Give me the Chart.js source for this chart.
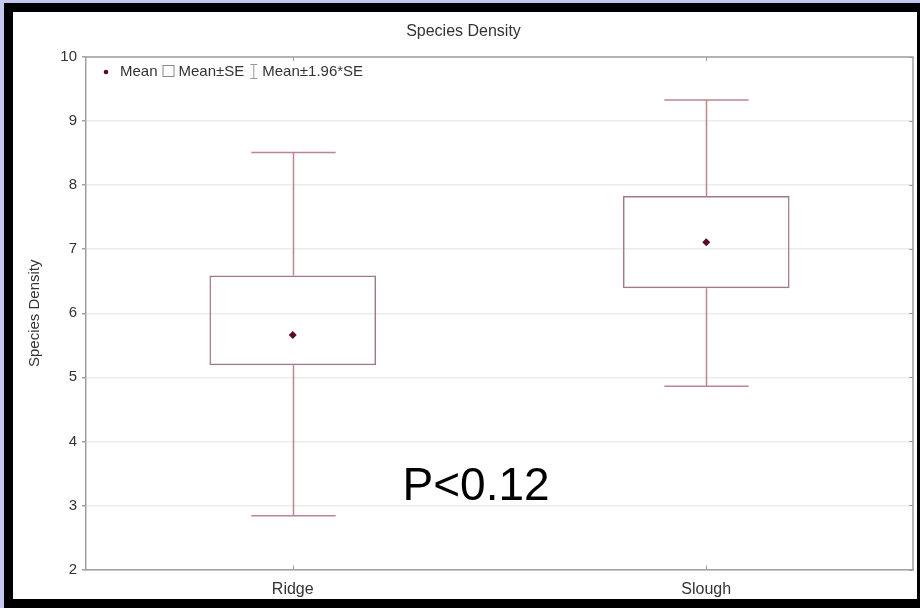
<!DOCTYPE html>
<html><head><meta charset="utf-8">
<script src="https://cdn.jsdelivr.net/npm/chart.js@4/dist/chart.umd.min.js"></script>
<style>
html,body{margin:0;padding:0;width:920px;height:608px;overflow:hidden;background:#c5c9ef;}
#frame{position:absolute;left:4px;top:3px;width:916px;height:605px;background:#000;}
#panel{position:absolute;left:13px;top:12px;width:904px;height:587px;background:#fff;}
canvas{display:block;}
</style></head><body>
<div id="frame"></div>
<div id="panel"><canvas id="c" width="904" height="587"></canvas></div>
<script>
const categories = ['Ridge', 'Slough'];
const meanValues = [5.66, 7.11];
const seLower = [5.19, 6.39];
const seUpper = [6.59, 7.83];
const ciLower = [2.84, 4.86];
const ciUpper = [8.51, 9.33];
const yAxisMin = 2;
const yAxisMax = 10;
const yStep = 1;
const chartTitle = 'Species Density';
const yTitle = 'Species Density';
const legendLabels = ['Mean', 'Mean±SE', 'Mean±1.96*SE'];
const annotationText = 'P<0.12';

const FONT = "'Liberation Sans', Arial, sans-serif";
const TEXT = '#333333';
const BOXC = '#a07a88';
const WHISK = '#c0848f';
const MEANC = '#5a0a22';
const AXISC = '#a0a0a0';

const decor = {
  id: 'decor',
  afterDatasetsDraw(chart) {
    const ctx = chart.ctx, xs = chart.scales.x, ys = chart.scales.y, a = chart.chartArea;
    ctx.save();
    // whiskers (Mean ± 1.96*SE)
    const catW = xs.getPixelForValue(1) - xs.getPixelForValue(0);
    const capHalf = catW * 0.102;
    ctx.strokeStyle = WHISK; ctx.lineWidth = 1.5;
    categories.forEach((c, i) => {
      const px = Math.round(xs.getPixelForValue(i)) + 0.5;
      const yHi = ys.getPixelForValue(ciUpper[i]), yBoxHi = ys.getPixelForValue(seUpper[i]);
      const yLo = ys.getPixelForValue(ciLower[i]), yBoxLo = ys.getPixelForValue(seLower[i]);
      ctx.beginPath();
      ctx.moveTo(px, yBoxHi); ctx.lineTo(px, yHi);
      ctx.moveTo(px - capHalf, yHi); ctx.lineTo(px + capHalf, yHi);
      ctx.moveTo(px, yBoxLo); ctx.lineTo(px, yLo);
      ctx.moveTo(px - capHalf, yLo); ctx.lineTo(px + capHalf, yLo);
      ctx.stroke();
    });
    // frame top/right
    ctx.strokeStyle = AXISC; ctx.lineWidth = 1.5;
    ctx.beginPath();
    ctx.moveTo(a.left, a.top); ctx.lineTo(a.right, a.top); ctx.lineTo(a.right, a.bottom);
    ctx.stroke();
    // inner ticks
    ctx.lineWidth = 1;
    ctx.beginPath();
    ys.ticks.forEach(t => {
      const py = Math.round(ys.getPixelForValue(t.value)) + 0.5;
      ctx.moveTo(a.right - 4, py); ctx.lineTo(a.right, py);
    });
    categories.forEach((c, i) => {
      const px = Math.round(xs.getPixelForValue(i)) + 0.5;
      ctx.moveTo(px, a.top); ctx.lineTo(px, a.top + 4);
      ctx.moveTo(px, a.bottom); ctx.lineTo(px, a.bottom - 4);
    });
    ctx.stroke();
    // legend
    ctx.font = '15px ' + FONT;
    ctx.textBaseline = 'middle';
    let lx = a.left + 20, ly = a.top + 15;
    ctx.fillStyle = MEANC;
    ctx.beginPath(); ctx.arc(lx, ly, 2.3, 0, Math.PI * 2); ctx.fill();
    lx += 14;
    ctx.fillStyle = TEXT;
    ctx.fillText(legendLabels[0], lx, ly);
    lx += ctx.measureText(legendLabels[0]).width + 5;
    ctx.strokeStyle = '#8a8a8a'; ctx.lineWidth = 1;
    ctx.strokeRect(lx + 0.5, ly - 6.5, 11, 11);
    lx += 16;
    ctx.fillText(legendLabels[1], lx, ly);
    lx += ctx.measureText(legendLabels[1]).width + 6;
    ctx.strokeStyle = '#9a9a9a';
    ctx.beginPath();
    ctx.moveTo(lx, ly - 7.5); ctx.lineTo(lx + 7, ly - 7.5);
    ctx.moveTo(lx + 3.5, ly - 7.5); ctx.lineTo(lx + 3.5, ly + 6.5);
    ctx.moveTo(lx, ly + 6.5); ctx.lineTo(lx + 7, ly + 6.5);
    ctx.stroke();
    lx += 12;
    ctx.fillText(legendLabels[2], lx, ly);
    // annotation
    ctx.font = "46px 'Liberation Sans', Arial, sans-serif";
    ctx.fillStyle = '#000';
    ctx.textAlign = 'left';
    ctx.textBaseline = 'alphabetic';
    ctx.fillText(annotationText, xs.getPixelForValue(0.5) - 97, ys.getPixelForValue(3.08));
    ctx.restore();
  }
};

new Chart(document.getElementById('c'), {
  data: {
    labels: categories,
    datasets: [
      {
        type: 'bar',
        label: 'Mean±SE',
        data: categories.map((c, i) => [seLower[i], seUpper[i]]),
        backgroundColor: 'rgba(255,255,255,0)',
        borderColor: BOXC,
        borderWidth: 1.5,
        borderSkipped: false,
        categoryPercentage: 1,
        barPercentage: 0.403,
        order: 2
      },
      {
        type: 'line',
        label: 'Mean',
        data: meanValues,
        showLine: false,
        pointStyle: 'rectRot',
        pointRadius: 4,
        pointBackgroundColor: MEANC,
        pointBorderColor: MEANC,
        pointBorderWidth: 0,
        order: 1
      }
    ]
  },
  options: {
    responsive: false,
    animation: false,
    layout: { padding: { left: 0, right: 3, top: 0, bottom: 0 } },
    plugins: {
      legend: { display: false },
      tooltip: { enabled: false },
      title: {
        display: true, text: chartTitle, color: TEXT,
        font: { family: FONT, size: 16, weight: 'normal' },
        padding: { top: 10.4, bottom: 15.4 }
      }
    },
    scales: {
      x: {
        type: 'category', offset: true,
        grid: { display: false, drawTicks: false },
        border: { display: true, color: AXISC, width: 1.5 },
        ticks: { color: TEXT, font: { family: FONT, size: 16 }, padding: 10 },
        afterFit(s) { s.height = 29.5; }
      },
      y: {
        min: yAxisMin, max: yAxisMax,
        ticks: { stepSize: yStep, color: TEXT, font: { family: FONT, size: 15 }, padding: 5 },
        grid: { color: '#ececec', lineWidth: 1.5, tickLength: 4, tickColor: AXISC },
        border: { display: true, color: AXISC, width: 1.5 },
        title: { display: true, text: yTitle, color: TEXT, font: { family: FONT, size: 15 }, padding: { top: 13, bottom: 0 } },
        afterFit(s) { s.width = 73; }
      }
    }
  },
  plugins: [decor]
});
</script>
</body></html>
